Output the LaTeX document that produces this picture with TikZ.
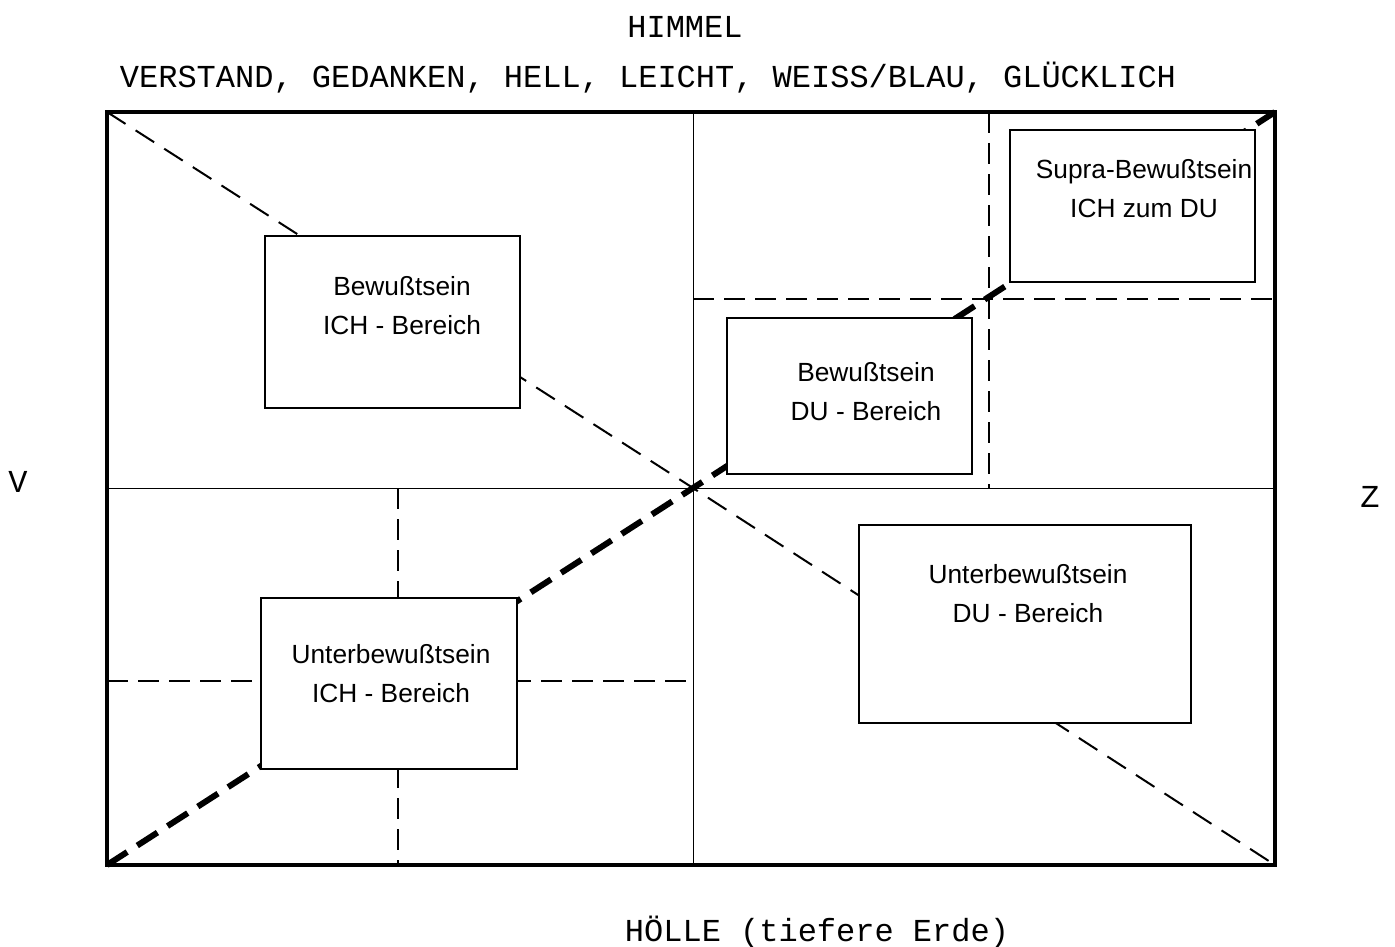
\documentclass[tikz,border=0pt]{standalone}
\usepackage{fontspec}
\setmainfont{Liberation Sans}
\setmonofont{Liberation Mono}
\usetikzlibrary{positioning}

\begin{document}
\begin{tikzpicture}[x=1pt,y=-1pt,
    feld/.style={shape=rectangle,draw=black,fill=white,line width=2.5pt,inner sep=0pt},
    feldtext/.style={align=center,font=\fontsize{26.3pt}{39pt}\selectfont},
    titel/.style={font=\ttfamily\fontsize{32pt}{38pt}\selectfont},
    achse/.style={line width=1pt},
    strich/.style={line width=2pt,dash pattern=on 22pt off 12pt},
    raster/.style={line width=2pt,dash pattern=on 21pt off 10pt},
    dick/.style={line width=6pt,dash pattern=on 24pt off 12pt}]
    \useasboundingbox (0,0) rectangle (1395,947);

    % frame corners and axes
    \coordinate (tl) at (107,112);
    \coordinate (tr) at (1275,112);
    \coordinate (bl) at (107,865);
    \coordinate (br) at (1275,865);
    \coordinate (oben) at (693,112);
    \coordinate (unten) at (693,865);
    \coordinate (links) at (107,488);
    \coordinate (rechts) at (1275,488);
    \coordinate (mitte) at (693,488);

    % helper lines in two quadrants
    \coordinate (qa) at (989,112);
    \coordinate (qb) at (989,488);
    \coordinate (qc) at (693,299);
    \coordinate (qd) at (1275,299);
    \coordinate (qe) at (398,488);
    \coordinate (qf) at (398,865);
    \coordinate (qg) at (107,681);
    \coordinate (qh) at (693,681);

    \draw[achse] (oben) -- (unten);
    \draw[achse] (links) -- (rechts);
    \draw[raster] (qa) -- (qb);
    \draw[raster] (qc) -- (qd);
    \draw[raster] (qe) -- (qf);
    \draw[raster] (qg) -- (qh);
    \draw[strich] (tl) -- (mitte) -- (br);
    \draw[dick] (bl) -- (mitte) -- (tr);

    % the five fields
    \node (ichbew)[feld,minimum width=255pt,minimum height=172pt]
        at (392.5,322) {};
    \node (dubew)[feld,minimum width=245pt,minimum height=156pt]
        at (849.5,396) {};
    \node (supra)[feld,minimum width=245pt,minimum height=152pt]
        at (1132.5,206) {};
    \node (ichunter)[feld,minimum width=256pt,minimum height=171pt]
        at (389,683.5) {};
    \node (duunter)[feld,minimum width=332pt,minimum height=198pt]
        at (1025,624) {};

    \node (tichbew)[feldtext] at (402,306) {Bewußtsein\\ICH - Bereich};
    \node (tdubew)[feldtext] at (866,392) {Bewußtsein\\DU - Bereich};
    \node (tsupra)[feldtext] at (1144,189) {Supra-Bewußtsein\\ICH zum DU};
    \node (tichunter)[feldtext] at (391,674) {Unterbewußtsein\\ICH - Bereich};
    \node (tduunter)[feldtext] at (1028,594) {Unterbewußtsein\\DU - Bereich};

    \draw[line width=4.5pt] (tl) rectangle (br);

    % labels outside
    \node (himmel)[titel] at (685,27) {HIMMEL};
    \node (verstand)[titel] at (648,78)
        {VERSTAND, GEDANKEN, HELL, LEICHT, WEISS/BLAU, GLÜCKLICH};
    \node (hoelle)[titel] at (817,932) {HÖLLE (tiefere Erde)};
    \node (vlinks)[titel] at (18,482) {V};
    \node (zrechts)[titel] at (1370,497) {Z};
\end{tikzpicture}
\end{document}
